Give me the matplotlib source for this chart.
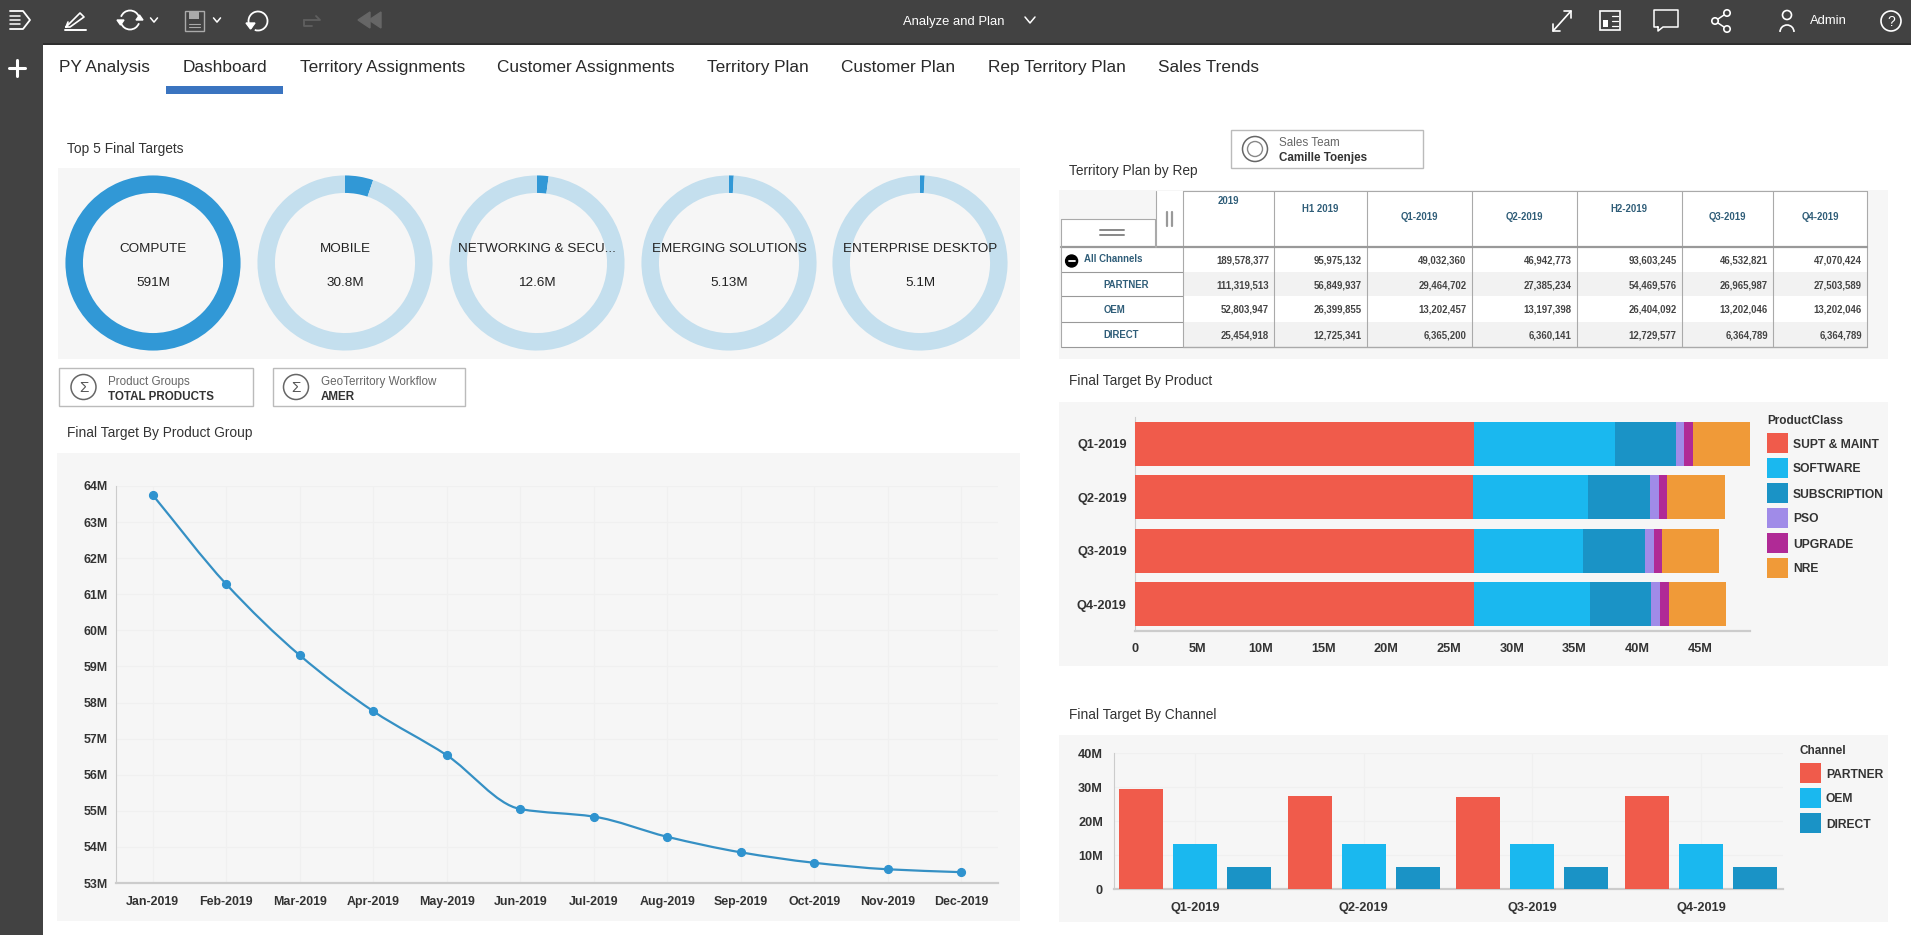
# -*- coding: utf-8 -*-
# Analyze and Plan dashboard, drawn on a pixel-sized overlay plus one axes per chart
import matplotlib
matplotlib.use("Agg")
import matplotlib.pyplot as plt
from matplotlib.lines import Line2D
from matplotlib.patches import Arc, Circle, PathPatch, Polygon, Rectangle
from matplotlib.path import Path

plt.rcParams["font.family"] = ["Liberation Sans", "DejaVu Sans"]

W, H = 1911, 935

# data
tabs = ["PY Analysis", "Dashboard", "Territory Assignments", "Customer Assignments",
        "Territory Plan", "Customer Plan", "Rep Territory Plan", "Sales Trends"]
donut_names = ["COMPUTE", "MOBILE", "NETWORKING & SECU...", "EMERGING SOLUTIONS", "ENTERPRISE DESKTOP"]
donut_labels = ["591M", "30.8M", "12.6M", "5.13M", "5.1M"]
donut_values = [591, 30.8, 12.6, 5.13, 5.1]

months = ["Jan-2019", "Feb-2019", "Mar-2019", "Apr-2019", "May-2019", "Jun-2019",
          "Jul-2019", "Aug-2019", "Sep-2019", "Oct-2019", "Nov-2019", "Dec-2019"]
group_target = [63.75, 61.28, 59.31, 57.76, 56.54, 55.05, 54.84, 54.28, 53.85, 53.56, 53.38, 53.30]

quarters = ["Q1-2019", "Q2-2019", "Q3-2019", "Q4-2019"]
product_classes = ["SUPT & MAINT", "SOFTWARE", "SUBSCRIPTION", "PSO", "UPGRADE", "NRE"]
supt_maint = [27.0, 26.9, 27.0, 27.0]
software = [11.2, 9.2, 8.7, 9.2]
subscription = [4.9, 4.9, 4.9, 4.9]
pso = [0.65, 0.7, 0.7, 0.7]
upgrade = [0.72, 0.7, 0.7, 0.7]
nre = [4.55, 4.54, 4.53, 4.57]
product_values = [supt_maint, software, subscription, pso, upgrade, nre]

channels = ["PARTNER", "OEM", "DIRECT"]
partner = [29.46, 27.39, 26.97, 27.50]
oem = [13.20, 13.20, 13.20, 13.20]
direct = [6.37, 6.36, 6.36, 6.36]
channel_values = [partner, oem, direct]

table_cols = ["2019", "H1 2019", "Q1-2019", "Q2-2019", "H2-2019", "Q3-2019", "Q4-2019"]
table_rows = ["All Channels", "PARTNER", "OEM", "DIRECT"]
row_all = ["189,578,377", "95,975,132", "49,032,360", "46,942,773", "93,603,245", "46,532,821", "47,070,424"]
row_partner = ["111,319,513", "56,849,937", "29,464,702", "27,385,234", "54,469,576", "26,965,987", "27,503,589"]
row_oem = ["52,803,947", "26,399,855", "13,202,457", "13,197,398", "26,404,092", "13,202,046", "13,202,046"]
row_direct = ["25,454,918", "12,725,341", "6,365,200", "6,360,141", "12,729,577", "6,364,789", "6,364,789"]
table_values = [row_all, row_partner, row_oem, row_direct]

# styles
DARK = "#424242"
PANEL = "#f6f6f6"
TEXT = "#333333"
TEAL = "#2f5d78"
GRID = "#f0f0f0"
AXIS = "#cccccc"
DONUT = "#3198d6"
DONUT_BG = "#c4dfee"
PRODUCT_COLORS = ["#f05b4b", "#1ab8ef", "#1a93c6", "#a08be8", "#b02a96", "#f09a38"]

fig = plt.figure(figsize=(W / 100, H / 100), dpi=100, facecolor="white")
ui = fig.add_axes([0, 0, 1, 1], zorder=0)
ui.set_xlim(0, W)
ui.set_ylim(H, 0)
ui.axis("off")


def px_axes(x0, y0, x1, y1):
    return fig.add_axes([x0 / W, 1 - y1 / H, (x1 - x0) / W, (y1 - y0) / H], zorder=2)


def rect(x0, y0, x1, y1, color, edge="none", lw=0, z=1):
    ui.add_patch(Rectangle((x0, y0), x1 - x0, y1 - y0, facecolor=color, edgecolor=edge, linewidth=lw, zorder=z))


def line(xs, ys, color="white", lw=1.2, z=5):
    ui.add_line(Line2D(xs, ys, color=color, linewidth=lw, zorder=z, solid_capstyle="round"))


def label(x, y, s, size=9, color=TEXT, ha="left", weight="normal"):
    ui.text(x, y, s, fontsize=size, color=color, ha=ha, va="center_baseline", fontweight=weight, zorder=6)


def chevron(x, y, color="white", s=3.5):
    line([x - s, x, x + s], [y - s * 0.6, y + s * 0.6, y - s * 0.6], color=color, lw=1.1)


# top bar and side bar
rect(0, 0, W, 43, DARK)
rect(0, 43, W, 45, "#2e2e2e")
rect(0, 0, 43, H, DARK)

# menu icon
line([10, 23, 30, 23, 10], [11, 11, 20, 29, 29], lw=1.3)
for yy in (16, 20, 24):
    line([10, 20], [yy, yy], lw=1.1)
# pencil
line([68, 66, 80, 84, 70, 66], [22, 27, 13, 17, 27, 27], lw=1.2)
line([65, 86], [30, 30], lw=1.4)
# refresh
ui.add_patch(Arc((130, 20), 19, 19, theta1=200, theta2=340, color="white", lw=1.3, zorder=5))
ui.add_patch(Arc((130, 20), 19, 19, theta1=20, theta2=160, color="white", lw=1.3, zorder=5))
ui.add_patch(Polygon([[136, 20], [143, 20], [139.5, 15]], color="white", zorder=5))
ui.add_patch(Polygon([[117, 20], [124, 20], [120.5, 25]], color="white", zorder=5))
chevron(154, 20)
# save
ui.add_patch(Rectangle((185, 11), 19, 20, fill=False, edgecolor="#aaaaaa", lw=1, zorder=5))
rect(189, 11, 199, 19, "#aaaaaa", z=5)
line([189, 200], [24, 24], color="#aaaaaa", lw=0.8)
line([189, 200], [27, 27], color="#aaaaaa", lw=0.8)
chevron(217, 20)
# undo, redo (dimmed), rewind (dimmed)
ui.add_patch(Arc((258, 21), 19, 19, theta1=-230, theta2=110, color="white", lw=1.3, zorder=5))
ui.add_patch(Polygon([[246, 23], [255, 23], [250.5, 29]], color="white", zorder=5))
line([304, 320, 316], [20, 20, 16], color="#5f5f5f", lw=1.3)
line([304, 304, 312], [20, 26, 26], color="#5f5f5f", lw=1.3)
ui.add_patch(Polygon([[358, 20], [370, 12], [370, 28]], color="#666666", zorder=5))
ui.add_patch(Polygon([[369, 20], [381, 12], [381, 28]], color="#666666", zorder=5))
# plus
line([17, 17], [60, 76], lw=2.2)
line([9, 25], [68, 68], lw=2.2)

label(903, 20, "Analyze and Plan", size=9.4, color="white")
chevron(1030, 20, s=5)

# right icons
line([1553, 1571], [31, 11], lw=1.2)
line([1553, 1553, 1560], [24, 31, 31], lw=1.2)
line([1564, 1571, 1571], [11, 11, 18], lw=1.2)
ui.add_patch(Rectangle((1600, 11), 20, 19, fill=False, edgecolor="white", lw=1.2, zorder=5))
rect(1603, 20, 1608, 27, "white", z=5)
line([1612, 1618], [16, 16], lw=0.9)
line([1612, 1618], [21, 21], lw=0.9)
line([1612, 1618], [26, 26], lw=0.9)
line([1658, 1654, 1654, 1678, 1678, 1663, 1658, 1658], [27, 27, 10, 10, 27, 27, 31, 27], lw=1.1)
share = [(1727, 13), (1715, 21), (1727, 29)]
line([share[0][0], share[1][0], share[2][0]], [share[0][1], share[1][1], share[2][1]], lw=1.1)
for c in share:
    ui.add_patch(Circle(c, 3.2, facecolor=DARK, edgecolor="white", lw=1.2, zorder=6))
ui.add_patch(Circle((1787, 15), 4.5, fill=False, edgecolor="white", lw=1.2, zorder=5))
ui.add_patch(Arc((1787, 32), 14, 14, theta1=180, theta2=360, color="white", lw=1.2, zorder=5))
label(1810, 20, "Admin", size=9.4, color="white")
ui.add_patch(Circle((1891, 21), 10, fill=False, edgecolor="white", lw=1.2, zorder=5))
label(1891, 21, "?", size=10, color="white", ha="center")

# tabs
tab_x = [59, 183, 300, 497, 707, 841, 987.5, 1158]
for x, name in zip(tab_x, tabs):
    label(x, 66, name, size=12.45, color="#2a2a2a")
rect(166, 86, 283, 94, "#3a74c0")

# panels
rect(58, 168, 1020, 359, PANEL)
rect(57, 453, 1020, 921, PANEL)
rect(1059, 190, 1888, 359, PANEL)
rect(1059, 402, 1888, 666, PANEL)
rect(1059, 735, 1888, 922, PANEL)

label(67, 148, "Top 5 Final Targets", size=9.95)
label(67, 432, "Final Target By Product Group", size=9.95)
label(1069, 170, "Territory Plan by Rep", size=9.95)
label(1069, 380, "Final Target By Product", size=9.95)
label(1069, 714, "Final Target By Channel", size=9.95)

# donuts, the texts go in the donut axes so they sit on top of the ring
donut_cx = [153, 345, 537, 729, 920]
for cx, name, lab, val in zip(donut_cx, donut_names, donut_labels, donut_values):
    ax = px_axes(cx - 88, 263 - 88, cx + 88, 263 + 88)
    ax.pie([val, donut_values[0] - val] if val < donut_values[0] else [val], radius=1, startangle=90,
           counterclock=False, colors=[DONUT, DONUT_BG], wedgeprops={"width": 0.2})
    ax.set_xlim(-1.005, 1.005)
    ax.set_ylim(-1.005, 1.005)
    ax.text(0, 0.18, name, fontsize=9.7, color="#222222", ha="center", va="center_baseline", clip_on=False)
    ax.text(0, -0.215, lab, fontsize=9.7, color="#222222", ha="center", va="center_baseline", clip_on=False)


# filter boxes
def filter_box(x0, y0, x1, y1, cx, tx, head, value, symbol):
    ui.add_patch(Rectangle((x0, y0), x1 - x0, y1 - y0, facecolor="white", edgecolor="#bbbbbb", lw=1, zorder=3))
    ui.add_patch(Circle((cx, (y0 + y1) / 2), 12.5, fill=False, edgecolor="#666666", lw=1.1, zorder=5))
    if symbol:
        label(cx, (y0 + y1) / 2, symbol, size=11, color="#555555", ha="center")
    else:
        ui.add_patch(Circle((cx, (y0 + y1) / 2), 7.5, fill=False, edgecolor="#888888", lw=1, zorder=5))
    label(tx, y0 + 12, head, size=8.4, color="#666666")
    label(tx, y0 + 27, value, size=8.4, color="#333333", weight="bold")


filter_box(59, 368, 253, 406, 83.5, 108, "Product Groups", "TOTAL PRODUCTS", "Σ")
filter_box(273, 368, 465, 406, 296, 321, "GeoTerritory Workflow", "AMER", "Σ")
filter_box(1231, 130, 1423, 168, 1255, 1279, "Sales Team", "Camille Toenjes", None)

# table
col_edges = [1183, 1274, 1366.5, 1471.6, 1576.6, 1681.7, 1773, 1867]
row_edges = [247, 272, 296, 322, 347]
head_y = [200, 208, 216, 216, 208, 216, 216]
rect(1183, 191, 1867, 247, "white", z=2)
rect(1061, 247, 1183, 347, "white", z=2)
rect(1183, 247, 1867, 347, "white", z=2)
rect(1061, 219, 1155, 247, "white", z=2)
rect(1156, 191, 1183, 247, "white", z=2)
for r, (name, vals) in enumerate(zip(table_rows, table_values)):
    y0, y1 = row_edges[r], row_edges[r + 1]
    if r % 2 == 1:
        rect(1183, y0, 1867, y1, "#f2f2f2", z=2)
    ym = (y0 + y1) / 2
    if r == 0:
        ui.add_patch(Circle((1071.6, 261), 6, color="black", zorder=5))
        line([1068.5, 1074.5], [261, 261], lw=1.3)
        label(1084.5, ym - 2, name, size=6.9, color=TEAL, weight="bold")
    else:
        label(1103.6, ym, name, size=6.9, color=TEAL, weight="bold")
    for c, v in enumerate(vals):
        label(col_edges[c + 1] - 5, ym, v, size=6.9, color="#444444", ha="right", weight="bold")
    line([1061, 1183], [y1, y1], color="#999999", lw=0.8, z=4)
for i, (name, y) in enumerate(zip(table_cols, head_y)):
    label((col_edges[i] + col_edges[i + 1]) / 2, y, name, size=6.9, color=TEAL, ha="center", weight="bold")
for x in col_edges:
    line([x, x], [191, 347], color="#aaaaaa", lw=0.8, z=4)
line([1183, 1867], [191, 191], color="#aaaaaa", lw=0.8, z=4)
line([1061, 1867], [247, 247], color="#999999", lw=1.6, z=4)
line([1183, 1867], [347, 347], color="#aaaaaa", lw=1, z=4)
line([1061, 1061], [219, 347], color="#aaaaaa", lw=0.8, z=4)
line([1061, 1155], [219, 219], color="#aaaaaa", lw=0.8, z=4)
line([1155, 1155], [219, 247], color="#aaaaaa", lw=0.8, z=4)
line([1156, 1156], [191, 247], color="#aaaaaa", lw=0.8, z=4)
line([1100, 1124], [230, 230], color="#888888", lw=1.4)
line([1100, 1124], [235, 235], color="#888888", lw=1.4)
line([1167, 1167], [212, 226], color="#999999", lw=1.6)
line([1172, 1172], [212, 226], color="#999999", lw=1.6)


def style_axes(ax, size=8.9):
    ax.set_facecolor(PANEL)
    for side in ("top", "right"):
        ax.spines[side].set_visible(False)
    ax.spines["left"].set_color(AXIS)
    ax.spines["left"].set_linewidth(0.8)
    ax.spines["bottom"].set_color(AXIS)
    ax.spines["bottom"].set_linewidth(1.6)
    ax.tick_params(length=0, labelsize=size, labelcolor=TEXT)
    for t in ax.get_xticklabels() + ax.get_yticklabels():
        t.set_fontweight("bold")
    # same baseline for all x labels, p and y would push them down otherwise
    for t in ax.get_xticklabels():
        t.set_verticalalignment("baseline")


# line chart
ax = px_axes(116, 486, 998, 883)
xs = list(range(len(months)))
slopes = [group_target[i + 1] - group_target[i] for i in xs[:-1]]
tang = [slopes[0]] + [2 * a * b / (a + b) for a, b in zip(slopes[:-1], slopes[1:])] + [slopes[-1]]
verts = [(xs[0], group_target[0])]
codes = [Path.MOVETO]
for i in xs[:-1]:
    verts += [(i + 1 / 3, group_target[i] + tang[i] / 3),
              (i + 2 / 3, group_target[i + 1] - tang[i + 1] / 3),
              (i + 1, group_target[i + 1])]
    codes += [Path.CURVE4] * 3
ax.add_patch(PathPatch(Path(verts, codes), fill=False, edgecolor="#3590c4", lw=1.6, zorder=3))
ax.plot(xs, group_target, "o", color="#2f93cf", markersize=5.6, zorder=4)
ax.set_xlim(-0.5, 11.5)
ax.set_ylim(53, 64)
ax.set_xticks(xs)
ax.set_xticklabels(months)
ax.set_yticks(range(53, 65))
ax.set_yticklabels([f"{v}M" for v in range(53, 65)])
ax.grid(True, color=GRID, lw=0.8, zorder=0)
ax.set_axisbelow(True)
style_axes(ax)
ax.tick_params(axis="x", pad=16)
ax.tick_params(axis="y", pad=6)

# stacked bars
ax = px_axes(1135, 417, 1750, 631)
left = [0, 0, 0, 0]
for vals, color in zip(product_values, PRODUCT_COLORS):
    ax.barh(range(4), vals, left=left, height=0.82, color=color, zorder=3)
    left = [a + b for a, b in zip(left, vals)]
ax.set_xlim(0, 48.97)
ax.set_ylim(3.5, -0.5)
ax.set_yticks(range(4))
ax.set_yticklabels(quarters)
ax.set_xticks(range(0, 50, 5))
ax.set_xticklabels(["0"] + [f"{v}M" for v in range(5, 50, 5)])
style_axes(ax, size=9.2)
ax.tick_params(axis="x", pad=15)
ax.tick_params(axis="y", pad=6)

# grouped bars
ax = px_axes(1114, 753, 1783, 889)
for k, (vals, color) in enumerate(zip(channel_values, PRODUCT_COLORS)):
    ax.bar([i + (k - 1) * 0.32 for i in range(4)], vals, width=0.261, color=color, zorder=3)
ax.set_xlim(-0.48, 3.485)
ax.set_ylim(0, 40)
ax.set_xticks(range(4))
ax.set_xticklabels(quarters)
ax.set_yticks([0, 10, 20, 30, 40])
ax.set_yticklabels(["0", "10M", "20M", "30M", "40M"])
ax.grid(True, color=GRID, lw=0.8, zorder=0)
ax.set_axisbelow(True)
style_axes(ax, size=9.2)
ax.tick_params(axis="x", pad=16)
ax.tick_params(axis="y", pad=8)


# legends
def draw_legend(x, y, title, names):
    label(x, y - 1.5, title, size=8.5, weight="bold")
    for i, name in enumerate(names):
        top = y + 12 + i * 25
        rect(x, top, x + 21, top + 20, PRODUCT_COLORS[i], z=3)
        label(x + 26, top + 10, name, size=8.7, weight="bold")


draw_legend(1767, 421, "ProductClass", product_classes)
draw_legend(1800, 751, "Channel", channels)

fig.savefig("out.png", dpi=100)
